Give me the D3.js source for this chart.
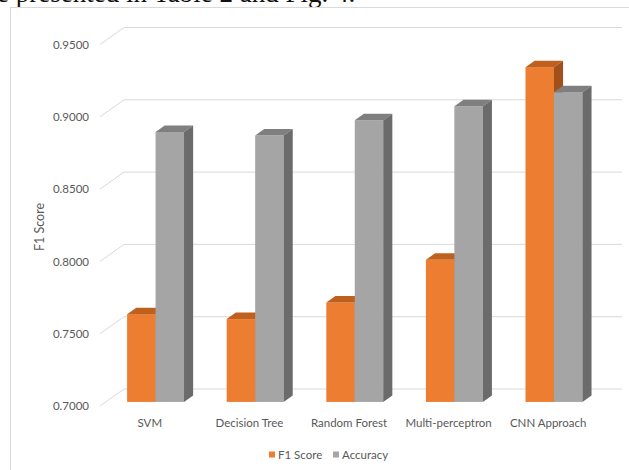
<!DOCTYPE html>
<html><head><meta charset="utf-8">
<script src="https://cdn.jsdelivr.net/npm/d3@7"></script>
<style>body{margin:0;background:#fff;} svg{display:block}</style>
</head><body>
<svg id="c" width="629" height="470"></svg>
<script>
const categories = ["SVM", "Decision Tree", "Random Forest", "Multi-perceptron", "CNN Approach"];
const seriesNames = ["F1 Score", "Accuracy"];
const f1Scores = [0.7607, 0.7573, 0.7688, 0.7983, 0.9315];
const accuracies = [0.8867, 0.8842, 0.8948, 0.9045, 0.9142];
const yTicks = [0.70, 0.75, 0.80, 0.85, 0.90, 0.95];
const yTitle = "F1 Score";
const captionText = "e presented in Table 2 and Fig. 4.";

const FONT = "Lato, 'Open Sans', sans-serif";
const TXT = "#595959";
const GRID = "#d9d9d9";
const palette = {
  "F1 Score": {front: "#ED7D31", top: "#C0601F", side: "#A2501B"},
  "Accuracy": {front: "#A5A5A5", top: "#7F7F7F", side: "#6B6B6B"}
};

const svg = d3.select("#c");

// caption fragment (cropped page text)
svg.append("text").attr("x", -3).attr("y", 2)
  .attr("font-family", "'Liberation Serif', serif").attr("font-size", 27)
  .attr("fill", "#111").text(captionText);

// chart frame
svg.append("rect").attr("x", 10.5).attr("y", 7.5).attr("width", 700).attr("height", 600)
  .attr("fill", "#fff").attr("stroke", GRID);

const DX = 24, DY = -17;      // depth of the 3D box
const F1 = 0.24, FD = 0.38;    // bar front position and depth as fraction of box depth

const x = d3.scaleBand().domain(categories).range([100, 598]).paddingInner(0).paddingOuter(0);
const xs = d3.scaleBand().domain(seriesNames).range([0, x.bandwidth()]).paddingInner(0).paddingOuter(0.75);
const y = d3.scaleLinear().domain([0.70, 0.95]).range([406, 44.5]);

// gridlines: side-wall diagonal + back wall horizontal
const grid = svg.append("g");
yTicks.forEach(t => {
  const yf = y(t), yb = y(t) + DY;
  grid.append("path")
    .attr("d", `M${x.range()[0]},${yf}L${x.range()[0] + DX},${yb}L${x.range()[1] + DX},${yb}`)
    .attr("fill", "none").attr("stroke", GRID).attr("stroke-width", 1);
});

// y axis labels
const ya = svg.append("g").attr("transform", "translate(89,0)")
  .call(d3.axisLeft(y).tickValues(yTicks).tickFormat(d3.format(".4f")).tickSize(0).tickPadding(0));
ya.select(".domain").remove();
ya.selectAll("text").attr("font-family", FONT).attr("font-size", 11.5).attr("fill", TXT);

// y title
svg.append("text").attr("transform", "translate(44,227) rotate(-90)")
  .attr("text-anchor", "middle").attr("font-family", FONT).attr("font-size", 12.5)
  .attr("fill", TXT).text(yTitle);

// bars
const data = categories.map((c, i) => ({cat: c, vals: [
  {s: "F1 Score", v: f1Scores[i]}, {s: "Accuracy", v: accuracies[i]}]}));

const ox = DX * F1, oy = DY * F1, dx = DX * FD, dy = DY * FD;
const bars = svg.append("g");
data.forEach(d => {
  d.vals.forEach(b => {
    const c = palette[b.s];
    const x0 = x(d.cat) + xs(b.s) + ox, w = xs.bandwidth();
    const yt = y(b.v) + oy, yb = y(0.70) + oy;
    const g = bars.append("g");
    g.append("rect").attr("x", x0).attr("y", yt).attr("width", w).attr("height", yb - yt).attr("fill", c.front);
    g.append("path").attr("d", `M${x0},${yt}L${x0 + dx},${yt + dy}L${x0 + w + dx},${yt + dy}L${x0 + w},${yt}Z`).attr("fill", c.top);
    g.append("path").attr("d", `M${x0 + w},${yt}L${x0 + w + dx},${yt + dy}L${x0 + w + dx},${yb + dy}L${x0 + w},${yb}Z`).attr("fill", c.side);
  });
});

// category axis
const xa = svg.append("g").attr("transform", "translate(0,416)")
  .call(d3.axisBottom(x).tickSize(0).tickPadding(3));
xa.select(".domain").remove();
xa.selectAll("text").attr("font-family", FONT).attr("font-size", 11.5).attr("fill", TXT);

// legend
const legendX = [269, 333];
const lg = svg.append("g");
seriesNames.forEach((s, i) => {
  lg.append("rect").attr("x", legendX[i]).attr("y", 451.5).attr("width", 6).attr("height", 6).attr("fill", palette[s].front);
  lg.append("text").attr("x", legendX[i] + 9).attr("y", 458.5).attr("font-family", FONT).attr("font-size", 11.5)
    .attr("fill", TXT).text(s);
});
</script>
</body></html>
